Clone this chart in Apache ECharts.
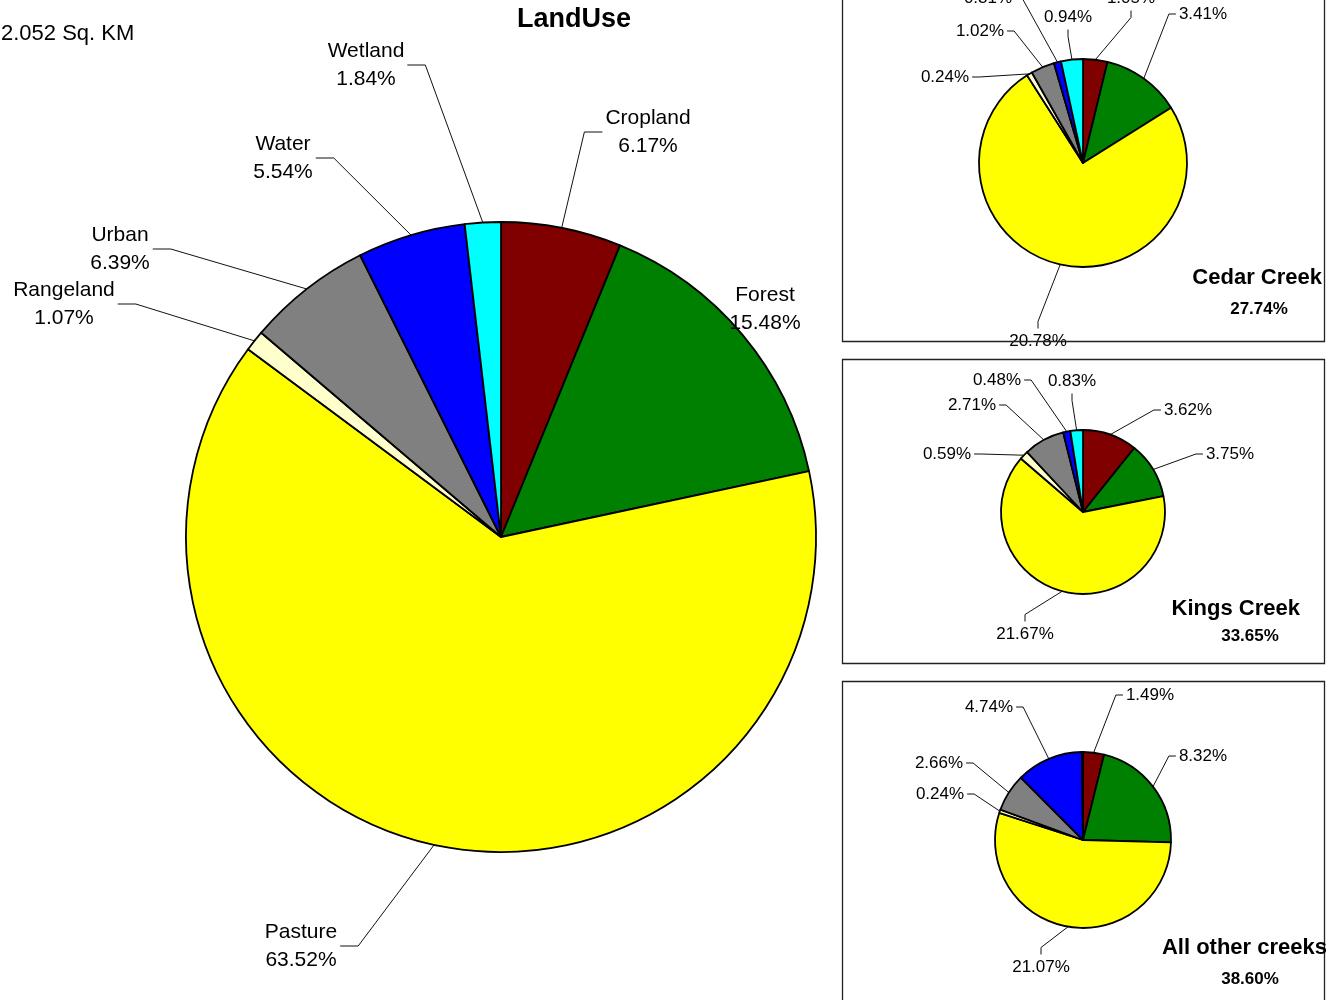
<!DOCTYPE html>
<html>
<head>
<meta charset="utf-8">
<title>LandUse</title>
<script src="https://cdn.jsdelivr.net/npm/echarts@6/dist/echarts.min.js"></script>
<style>
  html, body { margin: 0; padding: 0; background: #fff; }
  #landUseChart { width: 1329px; height: 1000px; }
</style>
</head>
<body>
<div id="landUseChart"></div>
<script>
// land use classes, same order in every pie (clockwise from 12 o'clock)
var landUse = ['Cropland', 'Forest', 'Pasture', 'Rangeland', 'Urban', 'Water', 'Wetland'];

// percent of the whole watershed
var wholeShare = [6.17, 15.48, 63.52, 1.07, 6.39, 5.54, 1.84];
var cedarShare = [1.05, 3.41, 20.78, 0.24, 1.02, 0.31, 0.94];
var kingsShare = [3.62, 3.75, 21.67, 0.59, 2.71, 0.48, 0.83];
var otherShare = [1.49, 8.32, 21.07, 0.24, 2.66, 4.74, 0.08];

var creekNames = ['Cedar Creek', 'Kings Creek', 'All other creeks'];
var creekTotals = ['27.74%', '33.65%', '38.60%'];
var areaText = '2.052 Sq. KM';

var landColors = ['#800000', '#008000', '#FFFF00', '#FFFFCC', '#808080', '#0000FF', '#00FFFF'];
var fontName = '"Liberation Sans", Arial, sans-serif';

// where each label sits (centre x, centre y, side the leader line joins)
var mainLabelPos = [
  [648, 132, 'L'], [765, 309, null], [301, 946, 'R'], [64, 304, 'R'],
  [120, 249, 'R'], [283, 158, 'R'], [366, 65, 'R']
];
var cedarLabelPos = [
  [1131, -2, 'B'], [1203, 14, 'L'], [1038, 341, 'T'], [945, 77, 'R'],
  [980, 31, 'R'], [988, -2, 'R'], [1068, 17, 'B']
];
var kingsLabelPos = [
  [1188, 410, 'L'], [1230, 454, 'L'], [1025, 634, 'T'], [947, 454, 'R'],
  [972, 405, 'R'], [997, 380, 'R'], [1072, 381, 'B']
];
var otherLabelPos = [
  [1150, 695, 'L'], [1203, 756, 'L'], [1041, 967, 'T'], [940, 794, 'R'],
  [939, 763, 'R'], [989, 707, 'R'], null
];

function makeLayout(table, elbow, gap) {
  return function (params) {
    var pos = table[params.dataIndex];
    if (!pos) return {};
    var w = params.labelRect.width, h = params.labelRect.height;
    var res = { x: pos[0], y: pos[1], align: 'center', verticalAlign: 'middle' };
    var pts = params.labelLinePoints;
    if (pts && pos[2]) {
      var a = [pts[0][0], pts[0][1]], p1, p2;
      if (pos[2] === 'L') { p2 = [pos[0] - w / 2 - gap, pos[1]]; p1 = [p2[0] - elbow, pos[1]]; }
      if (pos[2] === 'R') { p2 = [pos[0] + w / 2 + gap, pos[1]]; p1 = [p2[0] + elbow, pos[1]]; }
      if (pos[2] === 'T') { p2 = [pos[0], pos[1] - h / 2 - gap]; p1 = [pos[0], p2[1] - elbow]; }
      if (pos[2] === 'B') { p2 = [pos[0], pos[1] + h / 2 + gap]; p1 = [pos[0], p2[1] + elbow]; }
      res.labelLinePoints = [a, p1, p2];
    }
    return res;
  };
}

function buildData(values, labelTable) {
  return values.map(function (v, i) {
    var item = { name: landUse[i], value: v, itemStyle: { color: landColors[i] } };
    if (!labelTable[i]) {
      item.label = { show: false };
      item.labelLine = { show: false };
    } else if (!labelTable[i][2]) {
      item.labelLine = { show: false };
    }
    return item;
  });
}

function pieSeries(values, center, radius, labelTable, isMain) {
  return {
    type: 'pie',
    center: center,
    radius: radius,
    startAngle: 90,
    clockwise: true,
    avoidLabelOverlap: false,
    animation: false,
    emphasis: { disabled: true },
    itemStyle: { borderColor: '#000', borderWidth: 1.8 },
    label: {
      show: true,
      position: 'outside',
      color: '#000',
      fontFamily: fontName,
      fontSize: isMain ? 21 : 17,
      lineHeight: isMain ? 28 : 19,
      formatter: function (p) {
        var pct = p.value.toFixed(2) + '%';
        return isMain ? p.name + '\n' + pct : pct;
      }
    },
    labelLine: { show: true, length: 10, length2: 10, lineStyle: { color: '#111', width: 1 } },
    labelLayout: makeLayout(labelTable, isMain ? 18 : 7, 3),
    data: buildData(values, labelTable)
  };
}

function textEl(str, x, y, font, align) {
  return {
    type: 'text', x: x, y: y, z: 10,
    style: {
      text: str, font: font, fill: '#000',
      align: align, textAlign: align,
      verticalAlign: 'middle', textVerticalAlign: 'middle'
    }
  };
}

function boxEl(y, h) {
  return {
    type: 'rect', z: 5,
    shape: { x: 842.5, y: y + 0.5, width: 482, height: h },
    style: { fill: 'none', stroke: '#222', lineWidth: 1.3 }
  };
}

var chart = echarts.init(document.getElementById('landUseChart'));

var option = {
  backgroundColor: '#fff',
  animation: false,
  graphic: [
    boxEl(-10, 351), boxEl(359, 304), boxEl(681, 340),
    textEl('LandUse', 574, 20, 'bold 27px ' + fontName, 'center'),
    textEl(areaText, 1, 34, '22px ' + fontName, 'left'),
    textEl(creekNames[0], 1322, 278, 'bold 22px ' + fontName, 'right'),
    textEl(creekTotals[0], 1259, 309, 'bold 17px ' + fontName, 'center'),
    textEl(creekNames[1], 1300, 609, 'bold 22px ' + fontName, 'right'),
    textEl(creekTotals[1], 1250, 636, 'bold 17px ' + fontName, 'center'),
    textEl(creekNames[2], 1327, 948, 'bold 22px ' + fontName, 'right'),
    textEl(creekTotals[2], 1250, 979, 'bold 17px ' + fontName, 'center')
  ],
  series: [
    pieSeries(wholeShare, [501, 537], 315, mainLabelPos, true),
    pieSeries(cedarShare, [1083, 163], 104, cedarLabelPos, false),
    pieSeries(kingsShare, [1083, 512], 82, kingsLabelPos, false),
    pieSeries(otherShare, [1083, 840], 88, otherLabelPos, false)
  ]
};

chart.setOption(option);
</script>
</body>
</html>
